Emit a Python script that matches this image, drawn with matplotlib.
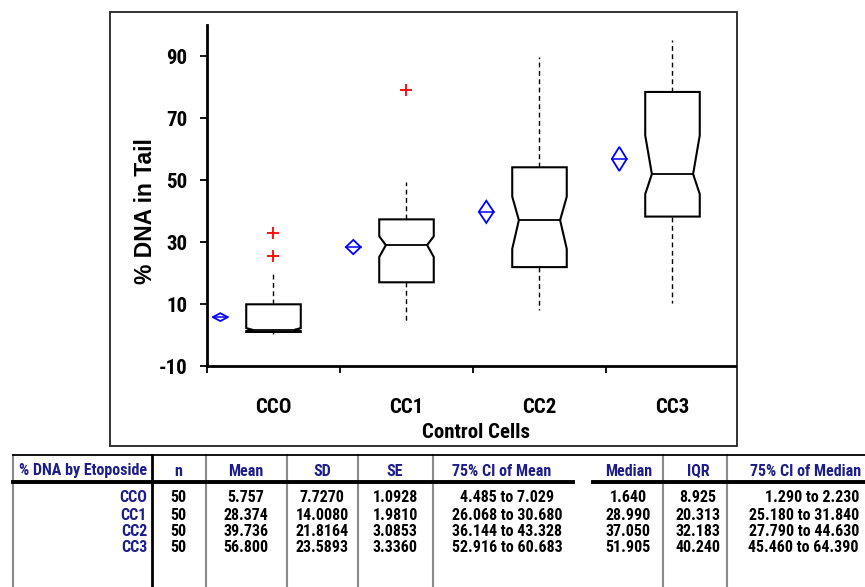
import matplotlib
matplotlib.use("Agg")
import matplotlib.pyplot as plt
from matplotlib.patches import Polygon, Rectangle

plt.rcParams["font.family"] = ["Roboto Condensed", "DejaVu Sans"]
plt.rcParams["font.weight"] = "bold"

# dados do grafico / tabela
grupos = ["CCO", "CC1", "CC2", "CC3"]
n_obs = [50, 50, 50, 50]
medias = [5.757, 28.374, 39.736, 56.800]
desvios = [7.7270, 14.0080, 21.8164, 23.5893]
erros = [1.0928, 1.9810, 3.0853, 3.3360]
ic_media_inf = [4.485, 26.068, 36.144, 52.916]
ic_media_sup = [7.029, 30.680, 43.328, 60.683]
medianas = [1.640, 28.990, 37.050, 51.905]
iqr = [8.925, 20.313, 32.183, 40.240]
ic_mediana_inf = [1.290, 25.180, 27.790, 45.460]
ic_mediana_sup = [2.230, 31.840, 44.630, 64.390]
q1 = [0.98, 17.0, 21.9, 38.2]
q3 = [9.90, 37.3, 54.1, 78.4]
bigode_inf = [0.3, 3.8, 8.0, 10.3]
bigode_sup = [20.5, 49.5, 89.7, 95.1]
outliers = [[25.4, 32.8], [79.1], [], []]
y_ticks = [-10, 10, 30, 50, 70, 90]

fig = plt.figure(figsize=(8.65, 5.87), dpi=100)

# eixo de fundo em pixels para moldura e tabela
fundo = fig.add_axes([0, 0, 1, 1])
fundo.set_xlim(0, 865)
fundo.set_ylim(587, 0)
fundo.axis("off")
fundo.add_patch(Rectangle((110, 12), 627, 434, fill=False, ec="#222222", lw=1.3))

ax = fig.add_axes([207 / 865, 1 - 366 / 587, 528 / 865, 341 / 587])
ax.set_facecolor("none")

hw, nw, dw = 0.205, 0.155, 0.056
tracejado = (0, (3.5, 2.5))
for i in range(len(grupos)):
    c = i + 0.5
    pts = [(c - hw, q1[i]), (c - hw, ic_mediana_inf[i]), (c - nw, medianas[i]),
           (c - hw, ic_mediana_sup[i]), (c - hw, q3[i]), (c + hw, q3[i]),
           (c + hw, ic_mediana_sup[i]), (c + nw, medianas[i]),
           (c + hw, ic_mediana_inf[i]), (c + hw, q1[i])]
    ax.add_patch(Polygon(pts, closed=True, fill=False, ec="black", lw=1.5))
    ax.plot([c - nw, c + nw], [medianas[i]] * 2, color="black", lw=1.3)
    ax.plot([c, c], [q3[i], bigode_sup[i]], color="black", lw=1, ls=tracejado)
    ax.plot([c, c], [q1[i], bigode_inf[i]], color="black", lw=1, ls=tracejado)
    if outliers[i]:
        ax.plot([c] * len(outliers[i]), outliers[i], "+", color="red", ms=9, mew=1.3)

    d = i + 0.1
    m = medias[i]
    ax.add_patch(Polygon([(d, ic_media_inf[i]), (d + dw, m), (d, ic_media_sup[i]), (d - dw, m)],
                         closed=True, fill=False, ec="blue", lw=1.3))
    ax.plot([d - dw, d + dw], [m, m], color="blue", lw=1.1)

ax.set_xlim(0, 3.97)
ax.set_ylim(-10, 100)
ax.set_yticks(y_ticks)
ax.set_yticklabels([str(v) for v in y_ticks], fontsize=15)
ax.tick_params(axis="y", length=5, width=1.3, pad=9)
ax.set_xticks([0, 1, 2, 3])
ax.set_xticklabels([])
ax.set_xticks([i + 0.5 for i in range(len(grupos))], minor=True)
ax.set_xticklabels(grupos, minor=True, fontsize=15)
ax.tick_params(axis="x", which="major", length=5, width=1.3)
ax.tick_params(axis="x", which="minor", length=0, pad=23)
for lado in ["top", "right"]:
    ax.spines[lado].set_visible(False)
for lado in ["left", "bottom"]:
    ax.spines[lado].set_linewidth(2)

fundo.text(476, 433, "Control Cells", fontsize=15, ha="center", va="center")
fundo.text(145, 211, "% DNA in Tail", fontsize=16.5, ha="center", va="center",
           rotation=90, family=["Liberation Sans", "DejaVu Sans"])

# tabela de estatisticas
azul = "#1c1c8c"
y_cab = 471
y_linhas = [498, 515, 532, 548]
for x in [13, 206, 287, 358, 433, 663, 727]:
    fundo.plot([x, x], [455, 587], color="#8a8a8a", lw=1.5)
fundo.plot([152, 152], [455, 587], color="black", lw=2)
fundo.plot([13, 865], [455, 455], color="black", lw=1.3)
fundo.plot([13, 573], [482, 482], color="black", lw=2.8)
fundo.plot([593, 865], [482, 482], color="black", lw=2.8)

cabecalhos = [("% DNA by Etoposide", 147, "right"), ("n", 178, "center"), ("Mean", 246, "center"),
              ("SD", 322, "center"), ("SE", 395, "center"), ("75% CI of Mean", 502, "center"),
              ("Median", 629, "center"), ("IQR", 698, "center"), ("75% CI of Median", 806, "center")]
for txt, x, ha in cabecalhos:
    fundo.text(x, y_cab, txt, fontsize=11.5, color=azul, ha=ha, va="center")

for i, y in enumerate(y_linhas):
    fundo.text(147, y, grupos[i], fontsize=11.5, color=azul, ha="right", va="center")
    celulas = [(f"{n_obs[i]}", 178, "center"), (f"{medias[i]:.3f}", 246, "center"),
               (f"{desvios[i]:.4f}", 322, "center"), (f"{erros[i]:.4f}", 395, "center"),
               (f"{ic_media_inf[i]:.3f} to {ic_media_sup[i]:.3f}", 507, "center"),
               (f"{medianas[i]:.3f}", 628, "center"), (f"{iqr[i]:.3f}", 698, "center"),
               (f"{ic_mediana_inf[i]:.3f} to {ic_mediana_sup[i]:.3f}", 859, "right")]
    for txt, x, ha in celulas:
        fundo.text(x, y, txt, fontsize=11.5, color="black", ha=ha, va="center")

fig.savefig("out.png", dpi=100)
